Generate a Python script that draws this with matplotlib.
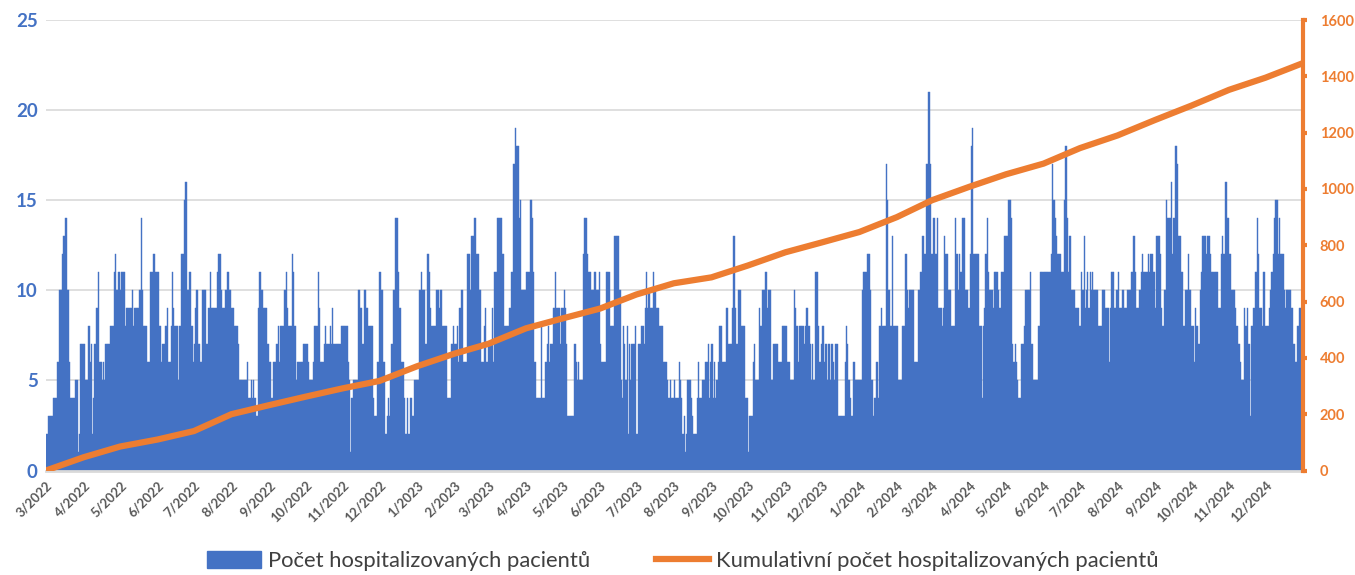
import datetime as dt

import matplotlib.pyplot as plt
import pandas as pd
from matplotlib.lines import Line2D
from matplotlib.patches import Patch

plt.rcParams["font.family"] = ["Lato", "DejaVu Sans"]

BLUE = "#4472C4"
ORANGE = "#ED7D31"
GRID = "#D9D9D9"

# daily counts, one row per month
patients_2022 = [
    2, 2, 3, 3, 3, 3, 4, 4, 4, 6, 6, 10, 10, 12, 13, 13, 14, 10, 10, 6, 4, 4, 4, 4, 5, 5, 1, 2, 7, 7, 7,
    7, 5, 5, 5, 8, 6, 7, 2, 4, 7, 9, 9, 11, 6, 6, 5, 6, 5, 7, 7, 7, 7, 8, 8, 8, 11, 12, 10, 11, 11,
    10, 11, 11, 11, 8, 9, 9, 9, 9, 9, 10, 8, 9, 9, 9, 9, 10, 14, 10, 8, 8, 8, 6, 6, 6, 11, 11, 12, 12, 11, 11,
    11, 8, 8, 6, 7, 7, 8, 8, 9, 6, 6, 8, 11, 9, 8, 8, 8, 5, 8, 12, 12, 12, 15, 16, 10, 10, 11, 11, 8, 6,
    7, 9, 10, 7, 7, 6, 6, 10, 10, 10, 7, 7, 9, 11, 9, 9, 9, 9, 9, 11, 12, 12, 10, 9, 9, 9, 10, 11, 11, 10, 10,
    9, 9, 8, 8, 8, 7, 5, 5, 5, 5, 5, 5, 5, 6, 4, 4, 5, 4, 5, 4, 3, 3, 9, 11, 10, 10, 9, 9, 9, 7, 7,
    6, 6, 4, 6, 6, 6, 7, 8, 6, 8, 8, 8, 10, 10, 11, 9, 8, 8, 8, 12, 11, 8, 5, 6, 6, 6, 6, 6, 7, 7,
    7, 7, 6, 5, 5, 5, 6, 8, 8, 8, 11, 9, 6, 6, 6, 7, 8, 7, 7, 7, 8, 7, 9, 7, 7, 7, 7, 7, 7, 8, 8,
    8, 8, 8, 8, 6, 5, 1, 4, 5, 5, 5, 5, 10, 10, 9, 9, 7, 10, 10, 9, 9, 8, 8, 8, 8, 4, 3, 3, 6, 6,
    11, 10, 10, 6, 6, 2, 3, 4, 3, 5, 7, 10, 10, 14, 14, 11, 9, 9, 6, 6, 4, 2, 2, 4, 2, 4, 4, 3, 3, 5, 5,
]
patients_2023 = [
    5, 5, 10, 11, 10, 10, 10, 7, 12, 12, 11, 9, 8, 8, 8, 8, 10, 10, 9, 10, 10, 8, 8, 8, 8, 4, 4, 4, 7, 7, 8,
    7, 7, 8, 6, 9, 10, 10, 6, 6, 6, 12, 12, 12, 10, 13, 13, 14, 14, 12, 12, 10, 10, 6, 6, 8, 9, 6, 6,
    7, 7, 7, 9, 6, 11, 11, 14, 14, 14, 14, 12, 12, 8, 8, 8, 8, 9, 9, 11, 17, 17, 19, 18, 18, 14, 15, 10, 10, 10, 10,
    11, 11, 11, 15, 15, 14, 11, 6, 4, 4, 4, 4, 8, 4, 4, 4, 6, 7, 8, 6, 7, 7, 9, 9, 11, 9, 9, 9, 7, 9,
    9, 10, 9, 7, 3, 3, 3, 3, 3, 3, 7, 6, 5, 6, 5, 5, 5, 12, 14, 14, 12, 11, 11, 11, 10, 10, 11, 11, 10, 10, 11,
    7, 6, 6, 6, 6, 11, 11, 11, 8, 8, 8, 8, 13, 13, 13, 13, 10, 5, 4, 8, 7, 5, 8, 2, 7, 5, 7, 7, 7, 8,
    2, 7, 7, 7, 8, 8, 7, 9, 11, 9, 10, 9, 9, 9, 11, 10, 9, 9, 9, 8, 8, 8, 6, 6, 6, 5, 4, 4, 5, 4, 4,
    5, 4, 4, 4, 6, 5, 4, 2, 3, 1, 2, 5, 5, 5, 4, 3, 2, 2, 2, 4, 6, 4, 4, 5, 5, 5, 6, 6, 7, 4, 6,
    7, 4, 6, 4, 5, 6, 8, 8, 8, 6, 6, 6, 9, 9, 7, 7, 7, 9, 13, 9, 7, 7, 10, 10, 8, 8, 8, 8, 4, 4,
    1, 3, 3, 3, 6, 7, 5, 5, 5, 9, 8, 8, 10, 10, 11, 11, 9, 10, 10, 5, 5, 7, 7, 7, 7, 6, 6, 6, 8, 8, 8,
    8, 6, 6, 6, 5, 5, 5, 10, 9, 8, 6, 8, 8, 8, 8, 7, 8, 9, 9, 8, 7, 5, 7, 5, 11, 11, 11, 8, 6, 7,
    8, 8, 6, 7, 5, 7, 7, 5, 7, 6, 5, 7, 7, 3, 3, 3, 3, 3, 3, 6, 8, 7, 5, 4, 3, 3, 6, 5, 5, 5, 5,
]
patients_2024 = [
    5, 5, 10, 11, 11, 11, 12, 12, 12, 10, 5, 3, 4, 4, 6, 4, 8, 8, 9, 8, 8, 8, 17, 15, 10, 8, 8, 13, 8, 8, 8,
    8, 5, 5, 5, 8, 8, 8, 12, 10, 9, 10, 10, 10, 10, 6, 6, 6, 10, 10, 11, 11, 13, 12, 12, 17, 17, 21, 17, 12,
    12, 14, 12, 12, 14, 9, 9, 9, 8, 9, 13, 12, 12, 10, 10, 10, 8, 8, 8, 14, 12, 10, 12, 11, 11, 14, 14, 10, 10, 10, 9,
    12, 18, 19, 12, 12, 12, 12, 12, 8, 8, 4, 8, 9, 12, 14, 11, 10, 10, 10, 9, 11, 11, 11, 10, 9, 9, 11, 11, 13, 13,
    13, 13, 15, 15, 14, 7, 6, 7, 6, 5, 4, 4, 7, 7, 7, 8, 10, 10, 10, 10, 11, 7, 5, 5, 5, 5, 8, 8, 11, 11, 11,
    11, 11, 11, 11, 11, 11, 12, 17, 15, 14, 13, 12, 12, 12, 11, 11, 11, 15, 18, 14, 11, 13, 13, 10, 10, 10, 9, 9, 9, 8,
    8, 11, 10, 13, 9, 10, 11, 9, 11, 10, 11, 10, 10, 10, 10, 8, 8, 8, 10, 10, 10, 9, 9, 9, 6, 9, 11, 11, 9, 9, 10,
    11, 9, 9, 9, 10, 9, 9, 9, 10, 10, 10, 11, 11, 13, 11, 9, 9, 9, 10, 11, 12, 11, 11, 11, 11, 12, 11, 12, 12, 11, 11,
    9, 13, 13, 13, 12, 9, 8, 10, 10, 15, 14, 14, 14, 16, 12, 14, 18, 18, 17, 13, 13, 11, 11, 8, 8, 10, 10, 12, 10, 10,
    8, 8, 6, 9, 8, 7, 7, 10, 11, 13, 13, 13, 12, 13, 13, 12, 11, 11, 11, 11, 11, 11, 9, 9, 12, 13, 12, 12, 16, 14, 14,
    12, 12, 10, 10, 10, 9, 8, 7, 7, 6, 5, 5, 9, 8, 8, 9, 7, 3, 8, 8, 9, 11, 11, 14, 12, 9, 9, 8, 11, 11,
    8, 8, 8, 9, 10, 11, 12, 14, 15, 15, 12, 14, 12, 12, 12, 10, 9, 10, 10, 10, 10, 9, 9, 7, 6, 6, 8, 8, 9, 9, 9,
]

# cumulative total at the start of each month, Mar 2022 .. Jan 2025
cumulative = [0, 47, 85, 110, 140, 200, 232, 262, 292, 318, 370, 415, 450, 505, 540, 575, 625,
              665, 686, 728, 775, 810, 847, 900, 960, 1008, 1052, 1090, 1145, 1190, 1245, 1296,
              1352, 1395, 1447]

daily = patients_2022 + patients_2023 + patients_2024
days = pd.date_range("2022-03-01", periods=len(daily), freq="D")
month_starts = pd.date_range("2022-03-01", "2025-01-01", freq="MS")

fig = plt.figure(figsize=(13.55, 5.75), dpi=100)
ax = fig.add_axes([46 / 1355, 1 - 470.5 / 575, 1257 / 1355, 450.5 / 575])

ax.bar(days, daily, width=1.0, align="edge", color=BLUE, edgecolor=BLUE, linewidth=0.3)
ax.set_ylim(0, 25)
ax.set_yticks(range(0, 26, 5))
ax.yaxis.grid(True, color=GRID, linewidth=1.2)
ax.set_axisbelow(True)
ax.tick_params(axis="y", length=0, pad=6, labelsize=13.5, labelcolor=BLUE)
for lab in ax.get_yticklabels():
    lab.set_fontweight("bold")

ax.set_xlim(dt.date(2022, 3, 1), dt.date(2025, 1, 1))
ticks = month_starts[:-1]
ax.set_xticks(ticks)
ax.set_xticklabels([f"{d.month}/{d.year}" for d in ticks], rotation=45, ha="right",
                   rotation_mode="anchor", color="#595959", fontsize=9.5, fontweight="bold")
ax.tick_params(axis="x", length=0, pad=6)

for side in ["top", "left", "right"]:
    ax.spines[side].set_visible(False)
ax.spines["bottom"].set_color(GRID)
ax.spines["bottom"].set_linewidth(2)

ax2 = ax.twinx()
ax2.plot(month_starts, cumulative, color=ORANGE, linewidth=4.5, solid_capstyle="butt")
ax2.set_ylim(0, 1600)
ax2.set_yticks(range(0, 1601, 200))
ax2.tick_params(axis="y", direction="out", length=3, width=3, color=ORANGE,
                labelcolor=ORANGE, labelsize=10.5, pad=9)
for lab in ax2.get_yticklabels():
    lab.set_fontweight("bold")
for side in ["top", "left", "bottom"]:
    ax2.spines[side].set_visible(False)
ax2.spines["right"].set_color(ORANGE)
ax2.spines["right"].set_linewidth(3)

handles = [Patch(facecolor=BLUE, edgecolor=BLUE),
           Line2D([], [], color=ORANGE, linewidth=4.5)]
fig.legend(handles, ["Počet hospitalizovaných pacientů", "Kumulativní počet hospitalizovaných pacientů"],
           loc="lower center", bbox_to_anchor=(0.504, -0.028), ncol=2, frameon=False,
           fontsize=15.8, labelcolor="#404040", handlelength=2.45, handleheight=0.8,
           handletextpad=0.3, columnspacing=3.0)

fig.savefig("out.png", dpi=100)
